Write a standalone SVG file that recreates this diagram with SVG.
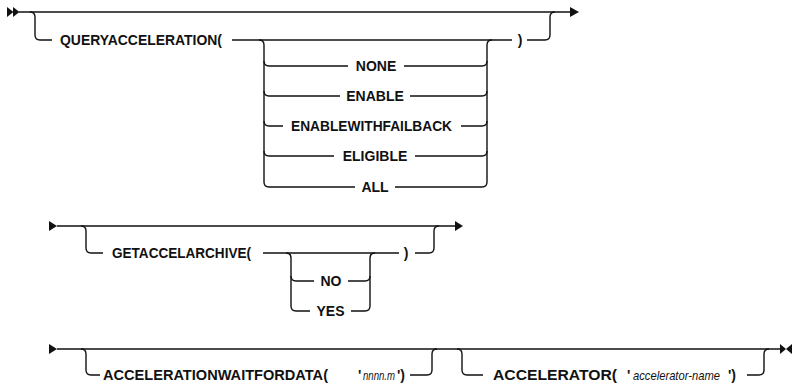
<svg xmlns="http://www.w3.org/2000/svg" width="794" height="390" viewBox="0 0 794 390">
<style>
.ln{fill:none;stroke:#111;stroke-width:1.4}
.ah{fill:#111;stroke:none}
.kw{font-family:"Liberation Sans",Arial,sans-serif;font-size:14px;font-weight:bold;fill:#111}
.c{text-anchor:middle}
.var{font-size:13px;font-style:italic;font-weight:normal}
</style>
<rect width="794" height="390" fill="#fff"/>
<g id="connectors">
<!-- row 1 -->
<polygon class="ah" points="7,7 13.5,12 7,17"/>
<polygon class="ah" points="13,7 19.5,12 13,17"/>
<path class="ln" d="M19,12 H570"/>
<polygon class="ah" points="570,7 579,12 570,17"/>
<path class="ln" d="M30,12 Q35,12 35,17 V35 Q35,40 40,40 H52"/>
<path class="ln" d="M232,40 H512"/>
<path class="ln" d="M527,40 H545 Q550,40 550,35 V17 Q550,12 555,12"/>
<path class="ln" d="M259,40 Q264,40 264,45 V182 Q264,187 269,187"/>
<path class="ln" d="M482,187 Q487,187 487,182 V45 Q487,40 492,40"/>
<path class="ln" d="M264,61 Q264,66 269,66 H348 M404,66 H482 Q487,66 487,61"/>
<path class="ln" d="M264,91 Q264,96 269,96 H340 M410,96 H482 Q487,96 487,91"/>
<path class="ln" d="M264,121 Q264,126 269,126 H283 M461,126 H482 Q487,126 487,121"/>
<path class="ln" d="M264,151 Q264,156 269,156 H334 M415,156 H482 Q487,156 487,151"/>
<path class="ln" d="M269,187 H355 M395,187 H482"/>
<!-- row 2 -->
<polygon class="ah" points="49,221 57,226 49,231"/>
<path class="ln" d="M57,226 H455"/>
<polygon class="ah" points="455,221 463,226 455,231"/>
<path class="ln" d="M81,226 Q86,226 86,231 V248 Q86,253 91,253 H103"/>
<path class="ln" d="M263,253 H399"/>
<path class="ln" d="M415,253 H429 Q434,253 434,248 V231 Q434,226 439,226"/>
<path class="ln" d="M286,253 Q291,253 291,258 V306 Q291,311 296,311 H310 M351,311 H365 Q370,311 370,306 V258 Q370,253 375,253"/>
<path class="ln" d="M291,276 Q291,281 296,281 H314 M348,281 H365 Q370,281 370,276"/>
<!-- row 3 -->
<polygon class="ah" points="49,344 57,349 49,354"/>
<path class="ln" d="M57,349 H781"/>
<polygon class="ah" points="780,344 786,349 780,354"/>
<polygon class="ah" points="792,344 786,349 792,354"/>
<path class="ln" d="M81,349 Q86,349 86,354 V370 Q86,375 91,375 H100"/>
<path class="ln" d="M410,375 H427 Q432,375 432,370 V354 Q432,349 437,349"/>
<path class="ln" d="M457,349 Q462,349 462,354 V370 Q462,375 467,375 H483"/>
<path class="ln" d="M747,375 H759 Q764,375 764,370 V354 Q764,349 769,349"/>
</g>
<g id="n-queryacceleration"><text class="kw" x="60" y="45" textLength="162" lengthAdjust="spacingAndGlyphs">QUERYACCELERATION(</text></g>
<g id="n-none"><text class="kw c" x="376" y="71">NONE</text></g>
<g id="n-enable"><text class="kw c" x="375" y="101">ENABLE</text></g>
<g id="n-enablewithfailback"><text class="kw" x="291" y="131" textLength="161" lengthAdjust="spacingAndGlyphs">ENABLEWITHFAILBACK</text></g>
<g id="n-eligible"><text class="kw c" x="375" y="161">ELIGIBLE</text></g>
<g id="n-all"><text class="kw c" x="375" y="192">ALL</text></g>
<g id="n-close1"><text class="kw c" x="520" y="45">)</text></g>
<g id="n-getaccelarchive"><text class="kw" x="112" y="258" textLength="139" lengthAdjust="spacingAndGlyphs">GETACCELARCHIVE(</text></g>
<g id="n-no"><text class="kw c" x="331" y="286">NO</text></g>
<g id="n-yes"><text class="kw c" x="330.5" y="316">YES</text></g>
<g id="n-close2"><text class="kw c" x="406" y="258">)</text></g>
<g id="n-accelerationwaitfordata"><text class="kw" x="103" y="380" textLength="225" lengthAdjust="spacingAndGlyphs">ACCELERATIONWAITFORDATA(</text>
<text class="kw" x="358" y="380">'<tspan class="var" x="363" textLength="32" lengthAdjust="spacingAndGlyphs">nnnn.m</tspan><tspan x="397">')</tspan></text></g>
<g id="n-accelerator"><text class="kw" x="493" y="380" textLength="124" lengthAdjust="spacingAndGlyphs">ACCELERATOR(</text>
<text class="kw" x="627" y="380">'<tspan class="var" x="633" textLength="87" lengthAdjust="spacingAndGlyphs">accelerator-name</tspan><tspan x="728">')</tspan></text></g>
</svg>
